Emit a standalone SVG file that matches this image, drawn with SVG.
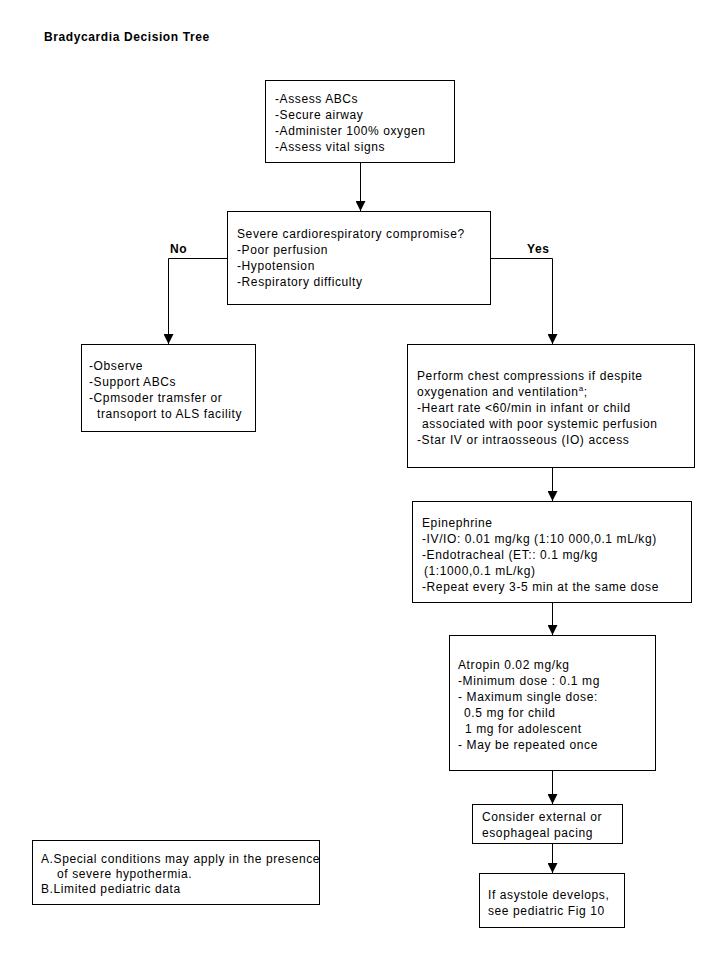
<svg xmlns="http://www.w3.org/2000/svg" width="719" height="959" viewBox="0 0 719 959">
<style>
text{font-family:"Liberation Sans",Arial,sans-serif;font-size:12px;letter-spacing:0.6px;fill:#000}
.b{font-weight:bold}
.box{fill:#fff;stroke:#000;stroke-width:1}
.c{fill:none;stroke:#000;stroke-width:1}
</style>
<defs>
<marker id="ah" markerUnits="userSpaceOnUse" markerWidth="10" markerHeight="10" refX="10" refY="5" orient="auto">
<path d="M0,0 L10,5 L0,10 z" fill="#000"/>
</marker>
</defs>
<rect width="719" height="959" fill="#fff"/>
<text class="b" x="44" y="41">Bradycardia Decision Tree</text>

<g id="connectors">
<path class="c" d="M360.5,162.5 V211" marker-end="url(#ah)"/>
<path class="c" d="M227.5,258.5 H168.5 V344" marker-end="url(#ah)"/>
<path class="c" d="M490.5,258.5 H552.5 V344" marker-end="url(#ah)"/>
<path class="c" d="M552.5,467.5 V501" marker-end="url(#ah)"/>
<path class="c" d="M552.5,602.5 V635" marker-end="url(#ah)"/>
<path class="c" d="M552.5,770.5 V804" marker-end="url(#ah)"/>
<path class="c" d="M552.5,843.5 V873" marker-end="url(#ah)"/>
<text class="b" x="170" y="253">No</text>
<text class="b" x="527" y="253">Yes</text>
</g>

<g id="assess">
<rect class="box" x="265.5" y="80.5" width="189" height="82"/>
<text x="275" y="103">-Assess ABCs</text>
<text x="275" y="119">-Secure airway</text>
<text x="275" y="135">-Administer 100% oxygen</text>
<text x="275" y="151">-Assess vital signs</text>
</g>

<g id="severe">
<rect class="box" x="227.5" y="211.5" width="263" height="93"/>
<text x="237" y="238">Severe cardiorespiratory compromise?</text>
<text x="237" y="254">-Poor perfusion</text>
<text x="237" y="270">-Hypotension</text>
<text x="237" y="286">-Respiratory difficulty</text>
</g>

<g id="observe">
<rect class="box" x="81.5" y="344.5" width="174" height="87"/>
<text x="89" y="369.5">-Observe</text>
<text x="89" y="385.5">-Support ABCs</text>
<text x="89" y="401.5">-Cpmsoder tramsfer or</text>
<text x="97" y="417.5">transoport to ALS facility</text>
</g>

<g id="compressions">
<rect class="box" x="407.5" y="344.5" width="287" height="123"/>
<text x="417" y="380">Perform chest compressions if despite</text>
<text x="417" y="396">oxygenation and ventilation<tspan dy="-5" font-size="8">a</tspan><tspan dy="5">;</tspan></text>
<text x="417" y="412">-Heart rate &lt;60/min in infant or child</text>
<text x="422" y="428">associated with poor systemic perfusion</text>
<text x="417" y="444">-Star IV or intraosseous (IO) access</text>
</g>

<g id="epinephrine">
<rect class="box" x="412.5" y="501.5" width="279" height="101"/>
<text x="422" y="527">Epinephrine</text>
<text x="422" y="543">-IV/IO: 0.01 mg/kg (1:10 000,0.1 mL/kg)</text>
<text x="422" y="559">-Endotracheal (ET:: 0.1 mg/kg</text>
<text x="424" y="575">(1:1000,0.1 mL/kg)</text>
<text x="422" y="591">-Repeat every 3-5 min at the same dose</text>
</g>

<g id="atropin">
<rect class="box" x="449.5" y="635.5" width="206" height="135"/>
<text x="458" y="669">Atropin 0.02 mg/kg</text>
<text x="458" y="685">-Minimum dose : 0.1 mg</text>
<text x="458" y="701">- Maximum single dose:</text>
<text x="464" y="717">0.5 mg for child</text>
<text x="465" y="733">1 mg for adolescent</text>
<text x="458" y="749">- May be repeated once</text>
</g>

<g id="pacing">
<rect class="box" x="472.5" y="804.5" width="150" height="39"/>
<text x="482" y="821">Consider external or</text>
<text x="482" y="837">esophageal pacing</text>
</g>

<g id="asystole">
<rect class="box" x="479.5" y="873.5" width="145" height="54"/>
<text x="488" y="899">If asystole develops,</text>
<text x="488" y="915">see pediatric Fig 10</text>
</g>

<g id="notes">
<rect class="box" x="32.5" y="840.5" width="287" height="64"/>
<text x="41" y="862.5">A.Special conditions may apply in the presence</text>
<text x="57" y="877.5">of severe hypothermia.</text>
<text x="41" y="892.5">B.Limited pediatric data</text>
</g>
</svg>
